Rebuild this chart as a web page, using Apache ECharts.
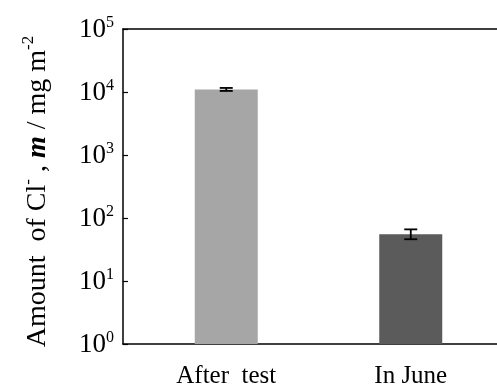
<!DOCTYPE html>
<html>
<head>
<meta charset="utf-8">
<script src="https://cdn.jsdelivr.net/npm/echarts@6/dist/echarts.min.js"></script>
<style>
  html, body { margin: 0; padding: 0; background: #fff; }
  #chart { width: 497px; height: 390px; }
</style>
</head>
<body>
<div id="chart"></div>
<script>
// Chloride deposition on the specimens
const categories = ['After  test', 'In June'];
const chlorideAmount = [11000, 55];      // m / mg m^-2
const errorLow = [10400, 46];
const errorHigh = [11600, 66];
const barColors = ['#a6a6a6', '#5b5b5b'];
const tickExponents = [0, 1, 2, 3, 4, 5];

const serif = 'Liberation Serif';
const chart = echarts.init(document.getElementById('chart'));

const expLabel = v => {
  const e = Math.round(Math.log10(v));
  return tickExponents.includes(e) ? '{b|10}{s|' + e + '}' : '';
};

const gridTop = 29, gridBottom = 46;

chart.setOption({
  animation: false,
  grid: [
    { left: 123, right: 0, top: gridTop, bottom: gridBottom, outerBoundsMode: 'none' },
    { left: 134, width: 369, top: gridTop, bottom: gridBottom, outerBoundsMode: 'none' }
  ],
  xAxis: [
    { gridIndex: 0, type: 'value', min: 0, max: 1, position: 'bottom',
      axisLine: { show: true, lineStyle: { color: '#000', width: 1.5 } },
      axisTick: { show: false }, axisLabel: { show: false }, splitLine: { show: false } },
    { gridIndex: 0, type: 'value', min: 0, max: 1, position: 'top',
      axisLine: { show: true, lineStyle: { color: '#000', width: 1.5 } },
      axisTick: { show: false }, axisLabel: { show: false }, splitLine: { show: false } },
    { gridIndex: 1, type: 'category', data: categories,
      axisLine: { show: false }, axisTick: { show: false },
      axisLabel: { color: '#000', fontFamily: serif, fontSize: 25, margin: 20 } }
  ],
  yAxis: [
    { gridIndex: 0, type: 'log', logBase: 10, min: 1, max: 100000,
      axisLine: { show: true, lineStyle: { color: '#000', width: 1.5 } },
      axisTick: { show: true, inside: true, length: 5, lineStyle: { color: '#000', width: 1.2 } },
      minorTick: { show: false },
      splitLine: { show: false },
      axisLabel: {
        margin: 9,
        formatter: expLabel,
        rich: {
          b: { fontFamily: serif, fontSize: 27, color: '#000', lineHeight: 28, verticalAlign: 'bottom' },
          s: { fontFamily: serif, fontSize: 16, color: '#000', lineHeight: 28, verticalAlign: 'top', padding: [0, 0, 6, 0] }
        }
      },
      name: '{t|Amount  of Cl}{sup|-}{t| , }{i|m}{t| / mg m}{sup|-2}',
      nameLocation: 'middle', nameRotate: 90, nameGap: 71,
      nameTextStyle: {
        padding: [0, 10, 0, 0],
        rich: {
          t: { fontFamily: serif, fontSize: 28, color: '#000', lineHeight: 32, verticalAlign: 'bottom' },
          i: { fontFamily: serif, fontSize: 28, color: '#000', fontStyle: 'italic', fontWeight: 'bold', lineHeight: 32, verticalAlign: 'bottom' },
          sup: { fontFamily: serif, fontSize: 17, color: '#000', lineHeight: 32, verticalAlign: 'top', padding: [0, 0, 8, 0] }
        }
      }
    },
    { gridIndex: 1, type: 'log', logBase: 10, min: 1, max: 100000, show: false }
  ],
  series: [
    {
      type: 'bar', xAxisIndex: 2, yAxisIndex: 1, barWidth: 63,
      data: chlorideAmount.map((v, i) => ({ value: v, itemStyle: { color: barColors[i] } }))
    },
    {
      type: 'custom', xAxisIndex: 2, yAxisIndex: 1, z: 5,
      data: categories.map((c, i) => [i, errorLow[i], errorHigh[i]]),
      renderItem: (params, api) => {
        const lo = api.coord([api.value(0), api.value(1)]);
        const hi = api.coord([api.value(0), api.value(2)]);
        const half = 6.5;
        const style = { stroke: '#000', lineWidth: 1.8 };
        return {
          type: 'group',
          children: [
            { type: 'line', shape: { x1: hi[0], y1: hi[1], x2: lo[0], y2: lo[1] }, style },
            { type: 'line', shape: { x1: hi[0] - half, y1: hi[1], x2: hi[0] + half, y2: hi[1] }, style },
            { type: 'line', shape: { x1: lo[0] - half, y1: lo[1], x2: lo[0] + half, y2: lo[1] }, style }
          ]
        };
      }
    }
  ]
});
</script>
</body>
</html>
